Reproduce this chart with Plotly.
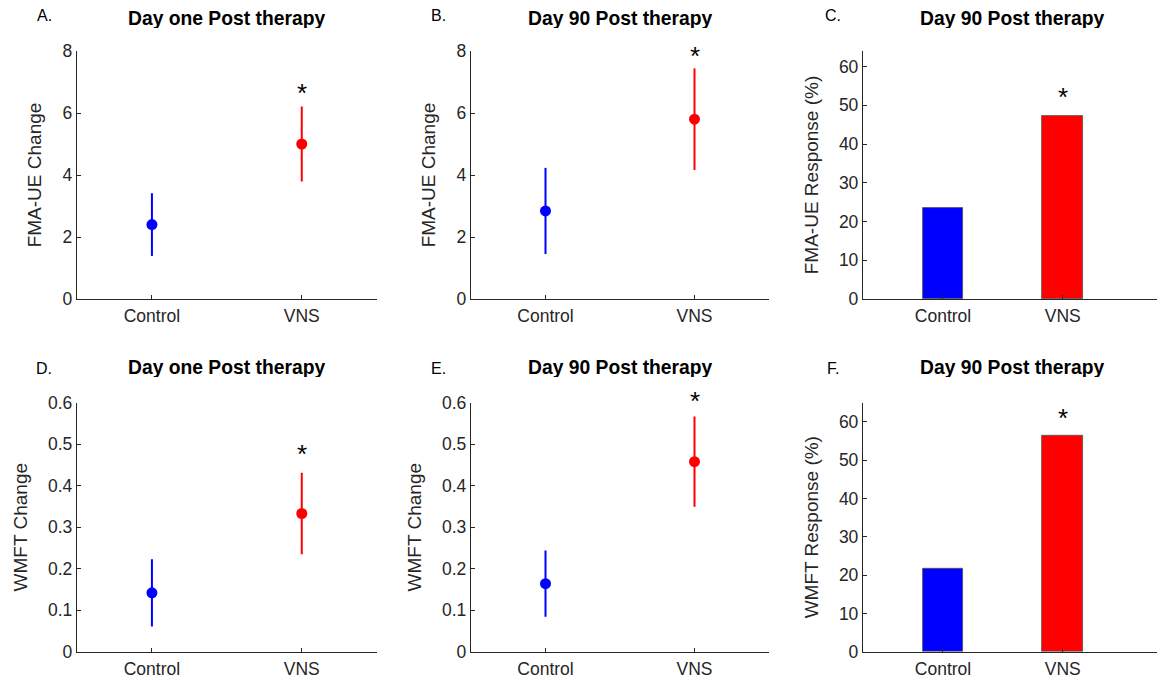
import plotly.graph_objects as go

# ---------------- data ----------------
groups = ["Control", "VNS"]
group_x = [1, 2]
colors = ["#0000FF", "#FF0000"]

# Panel A: FMA-UE change, day one post therapy (mean, error)
fma_day1_mean = [2.40, 5.00]
fma_day1_err = [1.01, 1.21]
# Panel B: FMA-UE change, day 90
fma_day90_mean = [2.84, 5.80]
fma_day90_err = [1.39, 1.64]
# Panel C: FMA-UE response (%), day 90
fma_resp = [23.5, 47.1]
# Panel D: WMFT change, day one
wmft_day1_mean = [0.142, 0.333]
wmft_day1_err = [0.081, 0.098]
# Panel E: WMFT change, day 90
wmft_day90_mean = [0.164, 0.458]
wmft_day90_err = [0.080, 0.109]
# Panel F: WMFT response (%), day 90
wmft_resp = [21.7, 56.5]

# significance asterisk heights (data units; E sits at the top of its axis)
star_y = {"A": 6.63, "B": 7.83, "C": 52.2, "D": 0.476, "E": 0.5995, "F": 61.1}
star_shift = {"A": 0, "B": 0, "C": 0, "D": 0, "E": 2, "F": 0}

panel_letters = ["A.", "B.", "C.", "D.", "E.", "F."]
panel_titles = ["Day one Post therapy", "Day 90 Post therapy", "Day 90 Post therapy",
                "Day one Post therapy", "Day 90 Post therapy", "Day 90 Post therapy"]
ylabels = ["FMA-UE Change", "FMA-UE Change", "FMA-UE Response (%)",
           "WMFT Change", "WMFT Change", "WMFT Response (%)"]

# ---------------- layout geometry ----------------
W, H = 1165, 681
OFF = 8  # page body margin offset compensation
FONT = "Liberation Sans, Arial, Helvetica, sans-serif"
AX = "#262626"

xdom_px = [(77, 376.7), (471, 769), (863, 1162.7)]
ydom_px = [(51, 299), (402.7, 651.7)]

def xd(p):
    return [(p[0] - OFF) / W, (p[1] - OFF) / W]

def yd(p):
    return [1 - (p[1] - OFF) / H, 1 - (p[0] - OFF) / H]

fig = go.Figure()

point_panels = [
    (0, fma_day1_mean, fma_day1_err, [0, 8], [0, 2, 4, 6, 8], "A"),
    (1, fma_day90_mean, fma_day90_err, [0, 8], [0, 2, 4, 6, 8], "B"),
    (3, wmft_day1_mean, wmft_day1_err, [0, 0.6], [0, 0.1, 0.2, 0.3, 0.4, 0.5, 0.6], "D"),
    (4, wmft_day90_mean, wmft_day90_err, [0, 0.6], [0, 0.1, 0.2, 0.3, 0.4, 0.5, 0.6], "E"),
]
bar_panels = [
    (2, fma_resp, [0, 64], [0, 10, 20, 30, 40, 50, 60], "C"),
    (5, wmft_resp, [0, 65], [0, 10, 20, 30, 40, 50, 60], "F"),
]

annotations = []

def axis_setup(idx, yrange, ytickvals, xrange):
    n = idx + 1
    col = idx % 3
    row = idx // 3
    xa = dict(domain=xd(xdom_px[col]), range=xrange, tickvals=group_x, ticktext=groups,
              showline=True, linecolor=AX, linewidth=1.3, ticks="inside", ticklen=4,
              tickcolor=AX, showgrid=False, zeroline=False, anchor="y%d" % n,
              automargin=False, ticklabelstandoff=1,
              tickfont=dict(family=FONT, size=17.5, color=AX), fixedrange=True)
    ya = dict(domain=yd(ydom_px[row]), range=yrange, tickvals=ytickvals,
              showline=True, linecolor=AX, linewidth=1.3, ticks="inside", ticklen=4,
              tickcolor=AX, showgrid=False, zeroline=False, anchor="x%d" % n,
              automargin=False,
              tickfont=dict(family=FONT, size=17.5, color=AX),
              title=dict(text=ylabels[idx], font=dict(family=FONT, size=19, color=AX),
                         standoff=15), fixedrange=True)
    fig.layout["xaxis%s" % ("" if n == 1 else n)] = xa
    fig.layout["yaxis%s" % ("" if n == 1 else n)] = ya

def add_star(n, key):
    annotations.append(dict(x=2, y=star_y[key], xref="x%d" % n, yref="y%d" % n,
                            text="*", showarrow=False, yshift=star_shift[key],
                            font=dict(family=FONT, size=26, color="black")))

for idx, means, errs, yr, ytv, key in point_panels:
    n = idx + 1
    for i in range(2):
        fig.add_trace(go.Scatter(
            x=[group_x[i]], y=[means[i]], mode="markers",
            marker=dict(color=colors[i], size=11, line=dict(width=0)),
            error_y=dict(type="data", array=[errs[i]], color=colors[i], thickness=2, width=0),
            xaxis="x%d" % n, yaxis="y%d" % n, showlegend=False, cliponaxis=False))
    axis_setup(idx, yr, ytv, [0.5, 2.5])
    add_star(n, key)

for idx, vals, yr, ytv, key in bar_panels:
    n = idx + 1
    fig.add_trace(go.Bar(
        x=group_x, y=vals, width=0.34,
        marker=dict(color=colors, line=dict(color="#505050", width=0.8)),
        xaxis="x%d" % n, yaxis="y%d" % n, showlegend=False))
    axis_setup(idx, yr, ytv, [0.332, 2.835])
    add_star(n, key)

# panel titles and letters
title_cx = [(xdom_px[c][0] + xdom_px[c][1]) / 2 for c in range(3)]
title_cy = [18, 367]
letter_cx = [44, 438.5, 833]
letter_cy = [15.5, 368]
for idx in range(6):
    col, row = idx % 3, idx // 3
    annotations.append(dict(x=(title_cx[col] - OFF) / W, y=1 - (title_cy[row] - OFF) / H,
                            xref="paper", yref="paper", height=20,
                            text="<b>%s</b>" % panel_titles[idx], showarrow=False,
                            xanchor="center", yanchor="middle",
                            font=dict(family=FONT, size=19.3, color="black")))
    annotations.append(dict(x=(letter_cx[col] - OFF) / W, y=1 - (letter_cy[row] - OFF) / H,
                            xref="paper", yref="paper", height=15,
                            text=panel_letters[idx], showarrow=False,
                            xanchor="center", yanchor="middle",
                            font=dict(family=FONT, size=16, color="black")))

fig.update_layout(width=W, height=H, margin=dict(l=0, r=0, t=0, b=0, autoexpand=False),
                  plot_bgcolor="white", paper_bgcolor="white",
                  annotations=annotations, bargap=0, showlegend=False)

fig.write_html("out.html")
